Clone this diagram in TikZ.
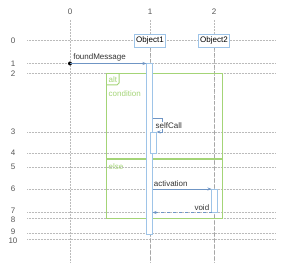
\documentclass[tikz,border=0pt]{standalone}
\usepackage{fontspec}
\setmainfont{Liberation Sans}
\usepackage{xcolor}
\usetikzlibrary{arrows.meta}

\definecolor{gridgray}{HTML}{BBBBBB}
\definecolor{labgray}{HTML}{555555}
\definecolor{lifeblue}{HTML}{9EC4E8}
\definecolor{msgblue}{HTML}{6F95C4}
\definecolor{altgreen}{HTML}{A4D477}

\tikzset{
  gridline/.style={draw=gridgray, densely dotted, line width=0.5pt},
  gridlab/.style={font=\fontsize{8}{9}\selectfont, text=labgray, inner sep=0pt},
  headbox/.style={draw=lifeblue, fill=white, font=\fontsize{8}{9}\selectfont,
    line width=0.8pt, inner sep=2pt, minimum height=13pt},
  lifeline/.style={draw=gray!70, dashed, line width=0.5pt},
  actbox/.style={draw=lifeblue, fill=white, line width=1pt},
  msg/.style={draw=msgblue, line width=0.6pt, -{Stealth[length=4pt,width=3pt]}},
  ret/.style={msg, dashed},
  msglab/.style={font=\fontsize{8}{9}\selectfont, text=black!80, inner sep=1pt},
  altframe/.style={draw=altgreen, line width=1pt},
  framelab/.style={font=\fontsize{8}{9}\selectfont, text=altgreen, inner sep=1pt},
}

\begin{document}
\begin{tikzpicture}[x=1pt, y=-1pt]
  \useasboundingbox (0,0) rectangle (288,275);

  % Grid columns
  \foreach \i/\x in {0/70, 1/150, 2/214} {
    \draw[gridline] (\x,20) -- (\x,262);
    \node[gridlab] (col\i) at (\x,12) {\i};
  }

  % Grid rows
  \foreach \i/\y/\ly in {0/40.5/40.5, 1/63.5/64, 2/73.5/74, 3/132/132, 4/153/153,
      5/167/167, 6/189/189, 7/212.5/210.5, 8/218.5/220, 9/233.5/232, 10/239.5/241} {
    \draw[gridline] (27,\y) -- (276,\y);
    \node[gridlab] (row\i) at (13,\ly) {\i};
  }

  % Lifelines
  \draw[lifeline] (150,47) -- (150,262);
  \draw[lifeline] (214,47) -- (214,262);
  \node[headbox] (obj1) at (150,40.5) {Object1};
  \node[headbox] (obj2) at (214,40.5) {Object2};

  % Fragment alt
  \draw[altframe] (106.5,73.5) rectangle (222.5,218.9);
  \draw[altframe, line width=1.2pt] (106.5,158.9) -- (222.5,158.9);
  \draw[altframe] (106.5,85) -- (117,85) -- (119,83) -- (119,73.5);
  \node[framelab, anchor=west] (altlab) at (107.5,79.5) {alt};
  \node[framelab, anchor=west] (cond) at (107.5,94) {condition};
  \node[framelab, anchor=west] (elselab) at (107.5,166.5) {else};

  % Activations
  \draw[actbox] (146.5,63.5) rectangle (152.5,234);
  \draw[actbox] (150.5,132) rectangle (156.5,153);
  \draw[actbox] (211.5,189) rectangle (217.5,212.5);
  \coordinate (act1in) at (146.5,63.5);
  \coordinate (selfout) at (152.5,118);
  \coordinate (selfin) at (156.5,132);
  \coordinate (act2out) at (152.5,189);
  \coordinate (act2in) at (211.5,189);
  \coordinate (retout) at (211.5,212.5);
  \coordinate (retin) at (152.5,212.5);

  % Messages
  \fill (70,63.5) circle (2pt) coordinate (found);
  \draw[msg] (found) -- (act1in)
    node[msglab, pos=0, anchor=south west, xshift=2pt, yshift=1pt] (foundlab) {foundMessage};

  \draw[msg] (selfout) -- ++(9.5,0) |- (selfin);
  \node[msglab, fill=white, anchor=west] (selflab) at (154.5,125.5) {selfCall};

  \draw[msg] (act2out) -- (act2in)
    node[msglab, pos=0, anchor=south west, yshift=1pt] (actlab) {activation};

  \draw[ret] (retout) -- (retin)
    node[msglab, pos=0, anchor=south east, xshift=-1pt, yshift=1pt] (voidlab) {void};
\end{tikzpicture}
\end{document}
